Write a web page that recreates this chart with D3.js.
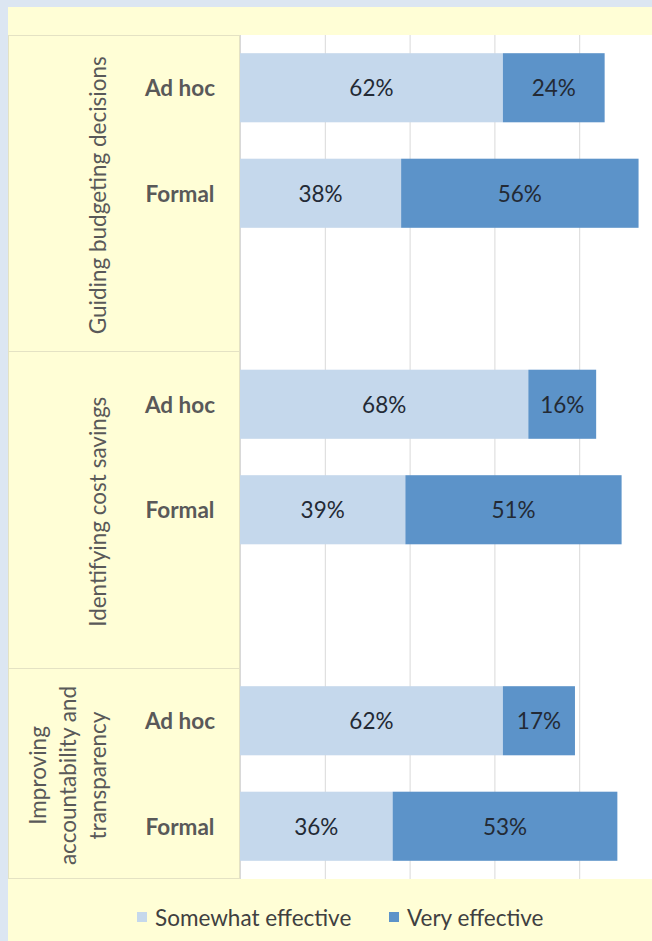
<!DOCTYPE html>
<html>
<head>
<meta charset="utf-8">
<script src="https://cdn.jsdelivr.net/npm/d3@7"></script>
<style>
  html, body { margin: 0; padding: 0; background: #dce6f2; }
  svg { display: block; font-family: Lato, "Open Sans", sans-serif; }
</style>
</head>
<body>
<svg id="chart" width="652" height="941"></svg>
<script>
// data
const groups = ["Guiding budgeting decisions", "Identifying cost savings", "Improving accountability and transparency"];
const groupLines = [["Guiding budgeting decisions"], ["Identifying cost savings"], ["Improving", "accountability and", "transparency"]];
const methods = ["Ad hoc", "Formal"];
const somewhatEffective = [62, 38, 68, 39, 62, 36];
const veryEffective = [24, 56, 16, 51, 17, 53];
const seriesNames = ["Somewhat effective", "Very effective"];
const xTicks = [0, 20, 40, 60, 80, 100];

const colors = ["#c5d8ec", "#5c93c9"];
const yellow = "#fffed6";
const boxLine = "#e4e2c4";
const fontSize = 22.5;

const svg = d3.select("#chart");
const W = 652, H = 941;
const plot = { left: 240, top: 35, bottom: 879 };

// slots: two methods per group plus an empty spacer between groups
const rows = [];
const slots = [];
groups.forEach((g, gi) => {
  methods.forEach((m, mi) => {
    const i = gi * methods.length + mi;
    const key = gi + "|" + m;
    slots.push(key);
    rows.push({ key, group: gi, method: m, values: [somewhatEffective[i], veryEffective[i]] });
  });
  if (gi < groups.length - 1) slots.push(gi + "|gap");
});

const x = d3.scaleLinear().domain([0, 100]).range([plot.left, plot.left + 424]);
const y = d3.scaleBand().domain(slots).range([plot.top, plot.bottom])
  .paddingInner(0.345).paddingOuter(0.1725);
const step = y.step();
const halfGap = (step - y.bandwidth()) / 2;

// backgrounds
svg.append("rect").attr("width", W).attr("height", H).attr("fill", "#dce6f2");
svg.append("rect").attr("x", 8).attr("y", 7).attr("width", W - 8).attr("height", H - 7).attr("fill", yellow);
svg.append("rect").attr("x", plot.left).attr("y", plot.top)
  .attr("width", W - plot.left).attr("height", plot.bottom - plot.top).attr("fill", "#fff");

// gridlines
const grid = svg.append("g").attr("transform", `translate(0,${plot.top})`)
  .call(d3.axisTop(x).tickValues(xTicks).tickSize(-(plot.bottom - plot.top)).tickFormat(""));
grid.select(".domain").remove();
grid.selectAll(".tick line").attr("stroke", "#d9d9d9").attr("stroke-width", 1);

// category label box
const groupExtent = groups.map((g, gi) => {
  const first = y(gi + "|" + methods[0]) - halfGap;
  const last = y(gi + "|" + methods[methods.length - 1]) + y.bandwidth() + halfGap;
  const end = gi < groups.length - 1 ? last + step : last;
  return [first, end];
});

const box = svg.append("g");
box.append("rect").attr("x", 8.5).attr("y", plot.top + 0.5)
  .attr("width", plot.left - 9).attr("height", plot.bottom - plot.top - 1)
  .attr("fill", yellow).attr("stroke", boxLine);
box.selectAll("line.sep").data(groupExtent.slice(1)).join("line")
  .attr("class", "sep")
  .attr("x1", 8).attr("x2", plot.left)
  .attr("y1", (d) => Math.round(d[0]) + 0.5).attr("y2", (d) => Math.round(d[0]) + 0.5)
  .attr("stroke", boxLine);

// rotated group labels
const lineGap = 30;
groupLines.forEach((lines, gi) => {
  const cy = (groupExtent[gi][0] + groupExtent[gi][1]) / 2 + 2;
  const cx = 97 - (lines.length - 1) * lineGap;
  const t = box.append("text")
    .attr("transform", `translate(${cx},${cy}) rotate(-90)`)
    .attr("text-anchor", "middle")
    .attr("dominant-baseline", "central")
    .attr("fill", "#595959")
    .attr("font-size", fontSize);
  lines.forEach((l, li) => {
    t.append("tspan").attr("x", 0).attr("dy", li === 0 ? 0 : lineGap).text(l);
  });
});

// method labels
box.selectAll("text.method").data(rows).join("text")
  .attr("class", "method")
  .attr("x", 180)
  .attr("y", (d) => y(d.key) + y.bandwidth() / 2)
  .attr("text-anchor", "middle")
  .attr("dominant-baseline", "central")
  .attr("font-weight", "bold")
  .attr("font-size", fontSize)
  .attr("fill", "#595959")
  .text((d) => d.method);

// stacked bars
const stacked = rows.map((r) => {
  let acc = 0;
  return r.values.map((v, si) => {
    const seg = { key: r.key, series: si, value: v, x0: acc, x1: acc + v };
    acc += v;
    return seg;
  });
}).flat();

const bars = svg.append("g");
bars.selectAll("rect").data(stacked).join("rect")
  .attr("x", (d) => x(d.x0))
  .attr("y", (d) => y(d.key))
  .attr("width", (d) => x(d.x1) - x(d.x0))
  .attr("height", y.bandwidth())
  .attr("fill", (d) => colors[d.series]);

bars.selectAll("text").data(stacked).join("text")
  .attr("x", (d) => x((d.x0 + d.x1) / 2))
  .attr("y", (d) => y(d.key) + y.bandwidth() / 2)
  .attr("text-anchor", "middle")
  .attr("dominant-baseline", "central")
  .attr("font-size", fontSize)
  .attr("fill", "#232a35")
  .text((d) => d.value + "%");

// legend
const legendX = [137, 389];
const legendY = 917;
const legend = svg.append("g").selectAll("g").data(seriesNames).join("g")
  .attr("transform", (d, i) => `translate(${legendX[i]},${legendY})`);
legend.append("rect").attr("x", 0).attr("y", -5).attr("width", 10).attr("height", 10)
  .attr("fill", (d, i) => colors[i]);
legend.append("text").attr("x", 18).attr("y", 0)
  .attr("dominant-baseline", "central")
  .attr("font-size", fontSize)
  .attr("fill", "#404040")
  .text((d) => d);
</script>
</body>
</html>
